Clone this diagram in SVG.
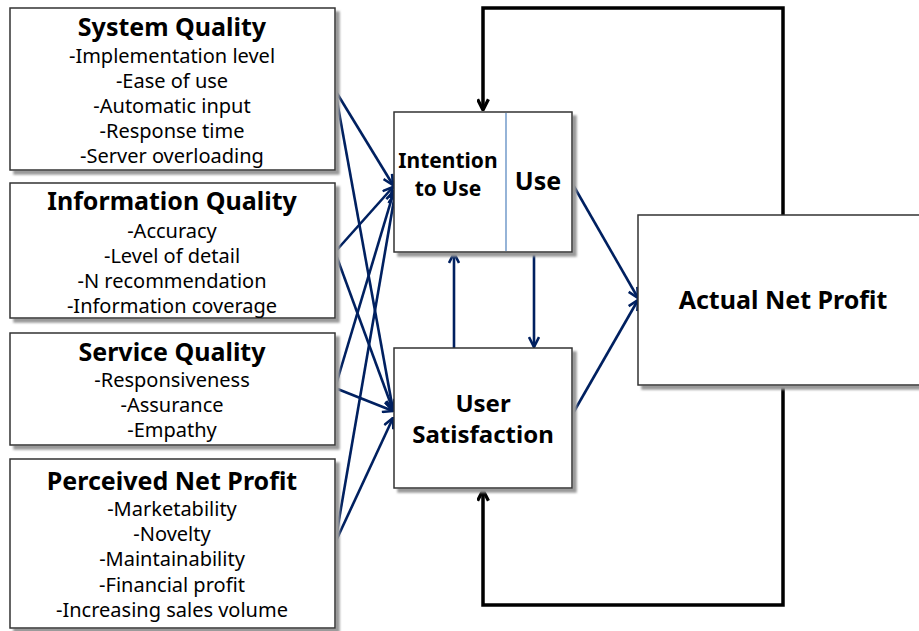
<svg xmlns="http://www.w3.org/2000/svg" width="919" height="631" viewBox="0 0 919 631">
  <style>
    .box { fill: #ffffff; stroke: #333333; stroke-width: 1.5; filter: url(#shadow); }
    .t { font-family: "Noto Sans", "Open Sans", sans-serif; fill: #000000; text-anchor: middle; }
    .title { font-size: 25px; font-weight: bold; }
    .item { font-size: 20px; }
    .mid { font-weight: bold; }
    .blue { stroke: #002060; stroke-width: 2.6; fill: none; marker-end: url(#arrowBlue); }
    .black { stroke: #000000; stroke-width: 3.5; fill: none; marker-end: url(#arrowBlack); }
  </style>
  <defs>
    <filter id="shadow" x="-5%" y="-5%" width="115%" height="115%">
      <feDropShadow dx="4" dy="4" stdDeviation="1" flood-color="#9a9a9a" flood-opacity="1"/>
    </filter>
    <marker id="arrowBlue" viewBox="0 0 12 12" refX="11" refY="6" markerWidth="12" markerHeight="12" markerUnits="userSpaceOnUse" orient="auto">
      <path d="M1,1 L11,6 L1,11" fill="none" stroke="#002060" stroke-width="2.6"/>
    </marker>
    <marker id="arrowBlack" viewBox="0 0 12 12" refX="11" refY="6" markerWidth="13" markerHeight="13" markerUnits="userSpaceOnUse" orient="auto">
      <path d="M1,1 L11,6 L1,11" fill="none" stroke="#000000" stroke-width="3"/>
    </marker>
  </defs>

  <rect width="919" height="631" fill="#ffffff"/>

  <!-- feedback loop and connectors -->
  <g id="connectors">
    <path class="black" d="M783,215 V8 H483 V110"/>
    <path class="black" d="M783,385 V605 H483 V490"/>

    <line class="blue" x1="335" y1="90" x2="393" y2="185"/>
    <line class="blue" x1="335" y1="90" x2="393" y2="410"/>
    <line class="blue" x1="335" y1="252" x2="393" y2="187"/>
    <line class="blue" x1="335" y1="252" x2="393" y2="410"/>
    <line class="blue" x1="335" y1="388" x2="394" y2="191"/>
    <line class="blue" x1="335" y1="388" x2="393" y2="411"/>
    <line class="blue" x1="335" y1="543" x2="395" y2="194"/>
    <line class="blue" x1="335" y1="543" x2="393" y2="418"/>

    <line class="blue" x1="454" y1="348" x2="454" y2="253"/>
    <line class="blue" x1="534" y1="252" x2="534" y2="347"/>

    <line class="blue" x1="572" y1="183" x2="638" y2="298"/>
    <line class="blue" x1="572" y1="415" x2="638" y2="300"/>
  </g>

  <g id="system-quality">
    <rect class="box" x="10" y="8" width="325" height="162"/>
    <text class="t title" x="172" y="36">System Quality</text>
    <text class="t item" x="172" y="63">-Implementation level</text>
    <text class="t item" x="172" y="88">-Ease of use</text>
    <text class="t item" x="172" y="113">-Automatic input</text>
    <text class="t item" x="172" y="138">-Response time</text>
    <text class="t item" x="172" y="163">-Server overloading</text>
  </g>

  <g id="information-quality">
    <rect class="box" x="10" y="183" width="325" height="135"/>
    <text class="t title" x="172" y="210">Information Quality</text>
    <text class="t item" x="172" y="238">-Accuracy</text>
    <text class="t item" x="172" y="263">-Level of detail</text>
    <text class="t item" x="172" y="288">-N recommendation</text>
    <text class="t item" x="172" y="313">-Information coverage</text>
  </g>

  <g id="service-quality">
    <rect class="box" x="10" y="333" width="325" height="112"/>
    <text class="t title" x="172" y="361">Service Quality</text>
    <text class="t item" x="172" y="387">-Responsiveness</text>
    <text class="t item" x="172" y="412">-Assurance</text>
    <text class="t item" x="172" y="437">-Empathy</text>
  </g>

  <g id="perceived-net-profit">
    <rect class="box" x="10" y="459" width="325" height="169"/>
    <text class="t title" x="172" y="490">Perceived Net Profit</text>
    <text class="t item" x="172" y="516">-Marketability</text>
    <text class="t item" x="172" y="541">-Novelty</text>
    <text class="t item" x="172" y="566">-Maintainability</text>
    <text class="t item" x="172" y="592">-Financial profit</text>
    <text class="t item" x="172" y="617">-Increasing sales volume</text>
  </g>

  <g id="intention-use">
    <rect class="box" x="394" y="112" width="178" height="140"/>
    <line x1="506" y1="113" x2="506" y2="251" stroke="#4f81bd" stroke-width="1.2"/>
    <text class="t mid" x="448" y="168" font-size="21">Intention</text>
    <text class="t mid" x="448" y="196" font-size="21">to Use</text>
    <text class="t mid" x="538" y="190" font-size="25">Use</text>
  </g>

  <g id="user-satisfaction">
    <rect class="box" x="394" y="348" width="178" height="140"/>
    <text class="t mid" x="483" y="412" font-size="24">User</text>
    <text class="t mid" x="483" y="443" font-size="24">Satisfaction</text>
  </g>

  <g id="actual-net-profit">
    <rect class="box" x="638" y="215" width="290" height="170"/>
    <text class="t mid" x="783" y="309" font-size="25">Actual Net Profit</text>
  </g>
</svg>
